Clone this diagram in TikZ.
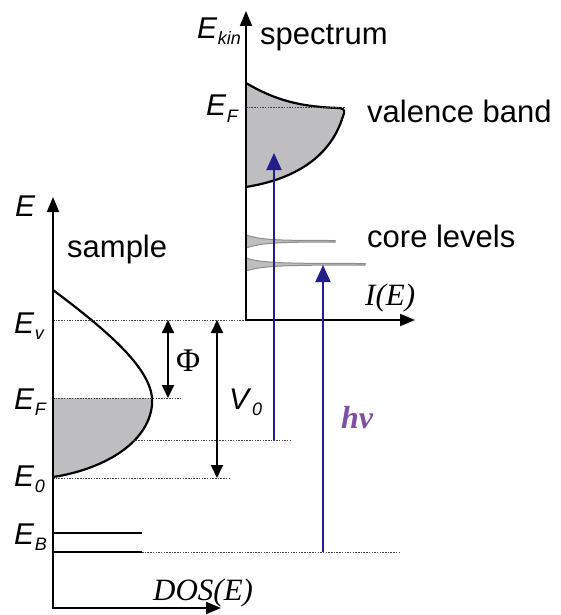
\documentclass[tikz,border=0pt]{standalone}
\usepackage{fontspec}
\setmainfont{Liberation Sans}
\newfontfamily\serf{Liberation Serif}
\usetikzlibrary{arrows.meta}
\definecolor{fillgray}{RGB}{190,190,192}
\definecolor{peakgray}{RGB}{140,140,140}
\definecolor{navy}{RGB}{35,30,140}
\definecolor{violetlbl}{RGB}{125,80,165}
\newcommand\Elab[2]{\textit{#1}\kern0.5pt\raisebox{-6pt}{\fontsize{18}{18}\selectfont\itshape #2}}
\begin{document}
\begin{tikzpicture}[x=1pt,y=-1pt,
 lbl/.style={inner sep=0pt, anchor=base west, font=\fontsize{30}{30}\selectfont},
 big/.style={inner sep=0pt, anchor=base west, font=\fontsize{31}{31}\selectfont},
 ser/.style={inner sep=0pt, anchor=base west, font=\fontsize{31}{31}\selectfont\serf\itshape},
 axisline/.style={line width=1.8pt, {Triangle[length=15pt,width=12pt]}-{Triangle[length=15pt,width=12pt]}},
 dots/.style={line width=1pt, draw=black!75, dash pattern=on 1.5pt off 1.2pt},
 curve/.style={line width=2.2pt},
 beam/.style={line width=2pt, draw=navy, -{Triangle[length=17pt,width=15pt]}},
 dim/.style={line width=1.8pt, {Triangle[length=13pt,width=12pt]}-{Triangle[length=13pt,width=12pt]}},
]
\useasboundingbox (0,0) rectangle (560,615);

% sample DOS fill
\begin{scope}
\clip (53,398) rectangle (200,490);
\fill[fillgray] (53,290) .. controls (120,340) and (155,375) .. (152,405) .. controls (148,445) and (100,470) .. (53,477) -- cycle;
\end{scope}
\draw[curve] (53,290) .. controls (120,340) and (155,375) .. (152,405) .. controls (148,445) and (100,470) .. (53,477);

% spectrum valence band
\filldraw[fill=fillgray, curve] (246,83) .. controls (275,100) and (300,107) .. (340,108) .. controls (345,109) and (345,112) .. (343,116) .. controls (330,160) and (290,180) .. (246,187);

% core levels
\filldraw[fill=fillgray, draw=peakgray, line width=1pt] (246,235) .. controls (262,240) and (275,240.5) .. (335,240.5) -- (335,242) .. controls (275,242) and (262,243) .. (246,248) -- cycle;
\filldraw[fill=fillgray, draw=peakgray, line width=1pt] (246,258) .. controls (262,263) and (280,263.5) .. (365,263.5) -- (365,265) .. controls (280,265) and (262,266) .. (246,271) -- cycle;

% dotted levels
\draw[dots] (53,320) -- (246,320);
\draw[dots] (53,398) -- (180,398);
\draw[dots] (133,440) -- (290,440);
\draw[dots] (53,478) -- (230,478);
\draw[dots] (142,552) -- (400,552);
\draw[dots] (246,108) -- (345,108);

% E_B levels
\draw[line width=2pt] (53,533) -- (142,533);
\draw[line width=2pt] (53,552) -- (142,552);

% axes
\coordinate (Etop) at (53,197);
\coordinate (O) at (53,608);
\coordinate (Dend) at (221,608);
\coordinate (Ktop) at (246,11);
\coordinate (S) at (246,320);
\coordinate (Iend) at (415,320);
\draw[axisline] (Etop) -- (O) -- (Dend);
\draw[axisline] (Ktop) -- (S) -- (Iend);

% dimension arrows
\coordinate (phiA) at (168,320);
\coordinate (phiB) at (168,398);
\coordinate (vA) at (217,320);
\coordinate (vB) at (217,478);
\draw[dim] (phiA) -- (phiB);
\draw[dim] (vA) -- (vB);

% photon beams
\coordinate (b1s) at (274,440);
\coordinate (b1e) at (274,153);
\coordinate (b2s) at (323,552);
\coordinate (b2e) at (323,265);
\draw[beam] (b1s) -- (b1e);
\draw[beam] (b2s) -- (b2e);

% labels
\node[lbl] (lE) at (15,216) {\textit{E}};
\node[lbl] (lEv) at (14,333) {\Elab{E}{v}};
\node[lbl] (lEF) at (14,409) {\Elab{E}{F}};
\node[lbl] (lE0) at (14,486) {\Elab{E}{0}};
\node[lbl] (lEB) at (14,544) {\Elab{E}{B}};
\node[lbl] (lEkin) at (197,39) {\Elab{E}{kin}};
\node[lbl] (lEF2) at (206,116) {\Elab{E}{F}};
\node[lbl] (lV0) at (229,409) {\Elab{V}{0}};
\node[inner sep=0pt, anchor=base west, font=\fontsize{33}{33}\selectfont\serf] (lphi) at (176,371) {Φ};
\node[inner sep=0pt, anchor=base west, font=\fontsize{32}{32}\selectfont\serf\bfseries\itshape, text=violetlbl] (lhv) at (341,428) {hv};
\node[big] (lsample) at (67,257) {sample};
\node[big] (lspec) at (260,45) {spectrum};
\node[big] (lval) at (367,122) {valence band};
\node[big] (lcore) at (367,247) {core levels};
\node[ser] (ldos) at (153,600) {DOS(E)};
\node[ser] (lI) at (365,305) {I(E)};
\end{tikzpicture}
\end{document}
